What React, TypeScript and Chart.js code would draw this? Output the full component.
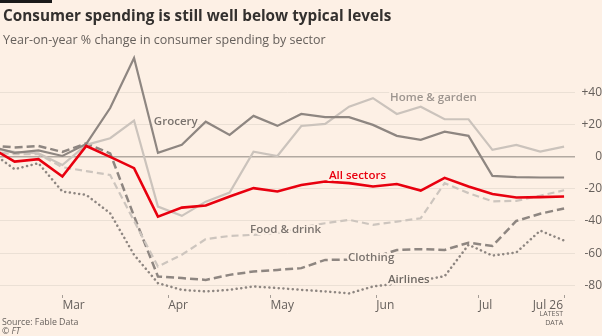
import React, { useEffect, useRef } from 'react';
import { Chart, registerables } from 'chart.js';

Chart.register(...registerables);

// Weekly observations, in days relative to 1 March
const weekDays = [-21, -14, -7, 0, 7, 14, 21, 28, 35, 42, 49, 56, 63, 70, 77, 84, 91, 98, 105, 112, 119, 126, 133, 140, 147];

const allSectors = [5.7, -3.1, -1.6, -12.4, 6.6, -0.2, -7.2, -37.3, -31.7, -30.4, -24.8, -19.6, -21.7, -17.6, -15.5, -16.5, -18.6, -17.0, -21.1, -13.2, -18.6, -23.2, -25.4, -25.2, -24.8];
const grocery = [6.5, 2.3, 3.9, 0.4, 7.9, 30.2, 61.3, 2.3, 7.3, 21.7, 13.5, 25.3, 19.1, 26.5, 24.5, 24.5, 19.7, 12.9, 10.4, 15.5, 12.9, -12.0, -12.8, -13.0, -13.0];
const homeGarden = [5, 2.9, 2.1, -5.2, 7.3, 11.4, 22.4, -31.1, -36.8, -28, -22.4, 3.1, 0.4, 19.0, 20.3, 31, 36.3, 26.5, 31, 23.2, 23.2, 4.2, 7.3, 3.1, 6.2];
const foodDrink = [3, 1.5, 1.5, -6.6, -9, -11.4, -40, -68.3, -61, -51.3, -49.3, -48.6, -47.5, -44, -41.4, -39.3, -42.4, -40.4, -38.3, -16.5, -22.7, -27.8, -27.5, -24.3, -20.9];
const clothing = [7, 5.7, 6.6, 2.9, 8.2, 2, -37, -74.5, -75.5, -76.6, -73.5, -71.4, -70.4, -69.3, -64.2, -64, -63, -58, -57.5, -58, -53.5, -55.5, -40, -35.5, -32.2];
const airlines = [3, -7.8, -4.1, -21.7, -23.8, -35.2, -61, -78.6, -82.8, -83.8, -82.8, -80.7, -81.7, -82.8, -83.8, -85.0, -80.7, -79, -77, -74.3, -54.8, -61.5, -59.6, -46, -52.2];

const xTickDays = [0, 31, 61, 92, 122, 147];
const xTickLabels = ['Mar', 'Apr', 'May', 'Jun', 'Jul', 'Jul 26'];
const yTickValues = [-80, -60, -40, -20, 0, 20, 40];

const seriesNames = ['All sectors', 'Grocery', 'Home & garden', 'Food & drink', 'Clothing', 'Airlines'];

const TITLE = 'Consumer spending is still well below typical levels';
const SUBTITLE = 'Year-on-year % change in consumer spending by sector';
const SOURCE = 'Source: Fable Data';

const FONT = '"Open Sans", Lato, sans-serif';
const BG = '#fdf0e5';
const GRID = '#ebe0d5';
const ZERO = '#b2a9a1';
const TEXT = '#66605c';
const RED = '#e8000f';

// label anchors (day, value) for the inline series labels
const labelSpecs = [
  { name: 'Grocery', day: 26.8, value: 21.7, color: '#7a736e' },
  { name: 'Home & garden', day: 96, value: 36.3, color: '#9d958f' },
  { name: 'All sectors', day: 78.1, value: -12, color: RED },
  { name: 'Food & drink', day: 55, value: -45.5, color: '#7a736e' },
  { name: 'Clothing', day: 83.7, value: -63.1, color: '#7a736e' },
  { name: 'Airlines', day: 95.4, value: -76.6, color: '#6f6964' },
];

const ftPlugin = {
  id: 'ftText',
  beforeDraw(chart: any) {
    const ctx = chart.ctx;
    ctx.save();
    ctx.fillStyle = BG;
    ctx.fillRect(0, 0, chart.width, chart.height);
    ctx.fillStyle = '#1a1a1a';
    ctx.fillRect(0, 0, 52, 3);
    ctx.textAlign = 'left';
    ctx.textBaseline = 'alphabetic';
    ctx.fillStyle = '#33302e';
    ctx.font = `bold 15.3px ${FONT}`;
    ctx.fillText(TITLE, 3, 21);
    ctx.fillStyle = TEXT;
    ctx.font = `12.5px ${FONT}`;
    ctx.fillText(SUBTITLE, 3, 43.5);
    ctx.font = `8.8px ${FONT}`;
    ctx.fillText(SOURCE, 2, 325);
    ctx.fillText('© ', 2, 333.5);
    const w = ctx.measureText('© ').width;
    ctx.font = `italic 8.8px ${FONT}`;
    ctx.fillText('FT', 2 + w, 333.5);
    ctx.restore();
  },
  afterDatasetsDraw(chart: any) {
    const ctx = chart.ctx;
    const xs = chart.scales.x;
    const ys = chart.scales.y;
    ctx.save();
    ctx.font = `600 11.5px ${FONT}`;
    ctx.textAlign = 'left';
    ctx.textBaseline = 'middle';
    ctx.lineJoin = 'round';
    for (const l of labelSpecs) {
      const x = xs.getPixelForValue(l.day);
      const y = ys.getPixelForValue(l.value);
      ctx.strokeStyle = BG;
      ctx.lineWidth = 4;
      ctx.strokeText(l.name, x, y);
      ctx.fillStyle = l.color;
      ctx.fillText(l.name, x, y);
    }
    ctx.restore();
  },
  afterDraw(chart: any) {
    const ctx = chart.ctx;
    const xs = chart.scales.x;
    const last = xTickDays.length - 1;
    const x = xs.getPixelForValue(xTickDays[last]) - 1;
    ctx.save();
    ctx.textAlign = 'right';
    ctx.textBaseline = 'alphabetic';
    ctx.fillStyle = TEXT;
    ctx.font = `12px ${FONT}`;
    ctx.fillText(xTickLabels[last], x, 308.5);
    ctx.font = `7px ${FONT}`;
    ctx.fillText('LATEST', x, 316);
    ctx.fillText('DATA', x, 324.5);
    ctx.restore();
  },
};

export default function App() {
  const ref = useRef<HTMLCanvasElement>(null);
  useEffect(() => {
    const canvas = ref.current!;
    const mk = (arr: number[]) => weekDays.map((d, i) => ({ x: d, y: arr[i] }));
    const base = { pointRadius: 0, tension: 0, fill: false };
    const chart = new Chart(canvas, {
      type: 'line',
      data: {
        datasets: [
          { ...base, label: seriesNames[0], data: mk(allSectors), borderColor: RED, borderWidth: 2.6 },
          { ...base, label: seriesNames[1], data: mk(grocery), borderColor: '#8e8681', borderWidth: 2.2 },
          { ...base, label: seriesNames[2], data: mk(homeGarden), borderColor: '#cbc3bc', borderWidth: 2.2 },
          { ...base, label: seriesNames[3], data: mk(foodDrink), borderColor: '#cdc5be', borderWidth: 2.2, borderDash: [7, 4] },
          { ...base, label: seriesNames[4], data: mk(clothing), borderColor: '#8e8681', borderWidth: 2.5, borderDash: [8, 4] },
          { ...base, label: seriesNames[5], data: mk(airlines), borderColor: '#8e8681', borderWidth: 2.5, borderDash: [0.1, 4.6], borderCapStyle: 'round' },
        ] as any,
      },
      options: {
        responsive: false,
        animation: false,
        devicePixelRatio: 1,
        layout: { padding: { top: 52, left: 0, right: 0, bottom: 0 } },
        plugins: { legend: { display: false }, tooltip: { enabled: false }, title: { display: false } },
        scales: {
          x: {
            type: 'linear',
            min: -18.28,
            max: 150.2,
            afterBuildTicks: (s: any) => { s.ticks = xTickDays.map((v) => ({ value: v })); },
            afterFit: (s: any) => { s.height = 41; },
            grid: { drawOnChartArea: false, drawTicks: true, tickLength: 3, color: '#a59d96', lineWidth: 1 },
            border: { display: false },
            ticks: {
              autoSkip: false,
              maxRotation: 0,
              minRotation: 0,
              align: 'start',
              padding: 0,
              color: TEXT,
              font: { size: 12, family: FONT },
              callback: (v: any) => {
                const i = xTickDays.indexOf(Number(v));
                return i === xTickDays.length - 1 ? '' : xTickLabels[i];
              },
            },
          },
          y: {
            position: 'right',
            min: -86,
            max: 65,
            afterBuildTicks: (s: any) => { s.ticks = yTickValues.map((v) => ({ value: v })); },
            afterFit: (s: any) => { s.width = 27; },
            grid: {
              drawTicks: false,
              color: (c: any) => (c.tick && c.tick.value === 0 ? ZERO : GRID),
              lineWidth: (c: any) => (c.tick && c.tick.value === 0 ? 1.6 : 1),
            },
            border: { display: false },
            ticks: {
              crossAlign: 'far',
              padding: 4,
              color: TEXT,
              font: { size: 12, family: FONT },
              callback: (v: any) => (Number(v) > 0 ? '+' + v : String(v)),
            },
          },
        },
      } as any,
      plugins: [ftPlugin],
    });
    return () => chart.destroy();
  }, []);
  return (
    <div style={{ position: 'fixed', left: 0, top: 0, width: 602, height: 336, background: BG }}>
      <canvas ref={ref} width={602} height={336} style={{ display: 'block', width: 602, height: 336 }} />
    </div>
  );
}
